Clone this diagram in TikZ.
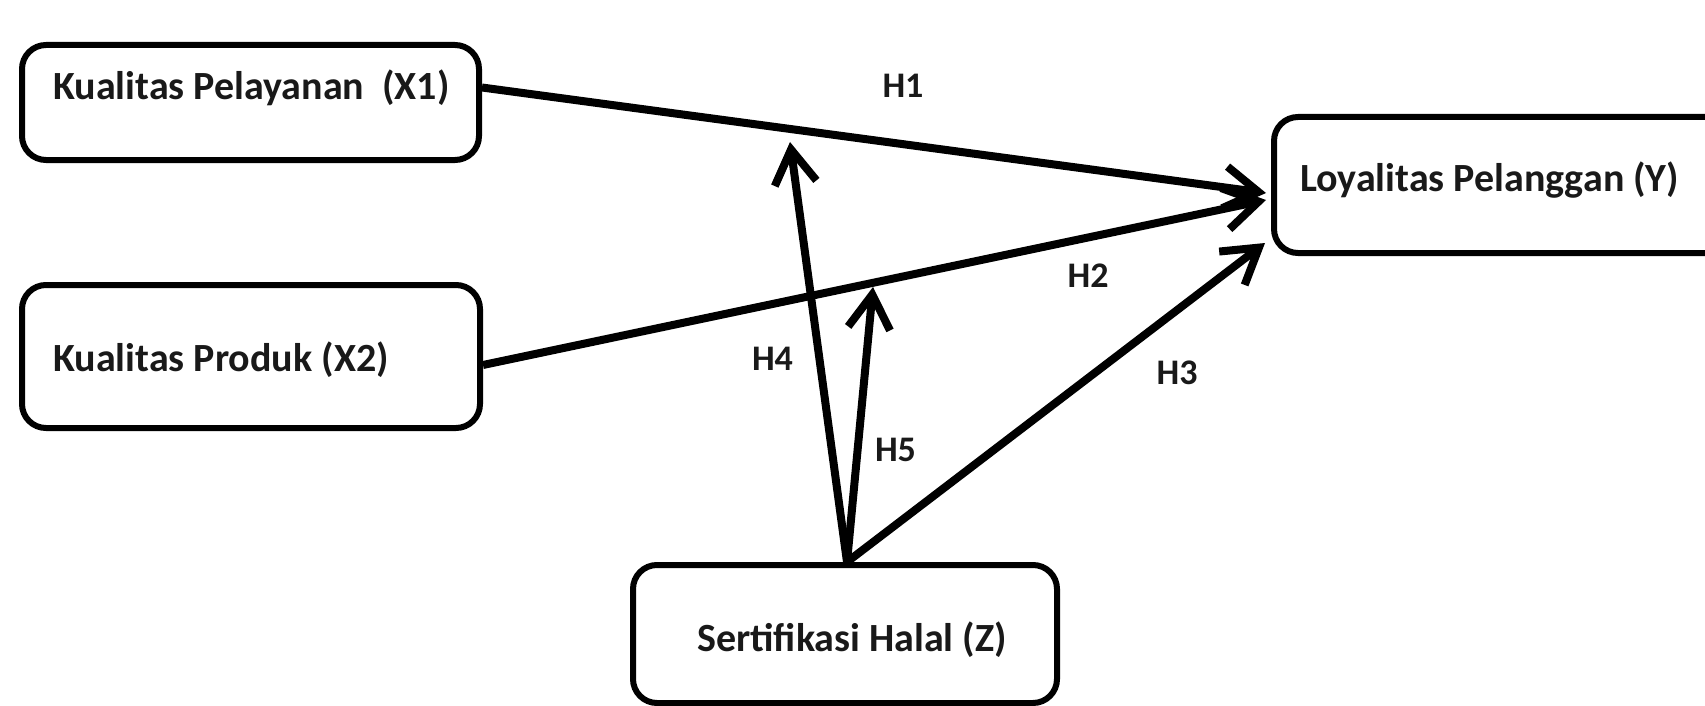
\documentclass[tikz,border=0pt]{standalone}
\usepackage{fontspec}
\setmainfont{Carlito}
\usetikzlibrary{arrows.meta,calc}
\begin{document}
\begin{tikzpicture}[x=1pt,y=-1pt,
  box/.style={draw=black, line width=6pt, rounded corners=24pt, inner sep=0pt},
  txt/.style={font=\fontsize{40}{48}\selectfont\bfseries, text=black!90, inner sep=0pt, anchor=west},
  hlbl/.style={font=\fontsize{36}{43}\selectfont\bfseries, text=black!90, inner sep=0pt},
  conn/.style={line width=8pt, -{Straight Barb[length=34pt,width=42pt]}}]
\useasboundingbox (0,0) rectangle (1705,706);
% boxes
\node[box, minimum width=457pt, minimum height=115pt] (x1) at (250.5,102.5) {};
\node[box, minimum width=458pt, minimum height=143pt] (x2) at (251,356.5) {};
\node[box, minimum width=456pt, minimum height=136pt] (y) at (1502,185) {};
\node[box, minimum width=424pt, minimum height=138pt] (z) at (845,634) {};
% box texts
\node[txt] (x1t) at (53,87.5) {Kualitas Pelayanan\ \ (X1)};
\node[txt] (x2t) at (53,359.5) {Kualitas Produk (X2)};
\node[txt] (yt) at (1300,180) {Loyalitas Pelanggan (Y)};
\node[txt] (zt) at (697,639.5) {Sertifikasi Halal (Z)};
% free ends
\coordinate (h4tip) at (790,142);
\coordinate (h5tip) at (873,287);
% connectors
\draw[conn] (x1.east |- x1t) -- ($(y.west)+(-5,8)$);
\draw[conn] ($(x2.east)+(0,8.5)$) -- ($(y.west)+(-5,15)$);
\draw[conn] ($(z.north)+(2,0)$) -- ($(y.west)+(-6,58)$);
\draw[conn] ($(z.north)+(2,0)$) -- (h4tip);
\draw[conn] ($(z.north)+(2,0)$) -- (h5tip);
% hypothesis labels
\node[hlbl] (h1) at (903,86) {H1};
\node[hlbl] (h2) at (1088,275.5) {H2};
\node[hlbl] (h3) at (1177,372.5) {H3};
\node[hlbl] (h4) at (772.5,358.5) {H4};
\node[hlbl] (h5) at (895.5,450) {H5};
\end{tikzpicture}
\end{document}
